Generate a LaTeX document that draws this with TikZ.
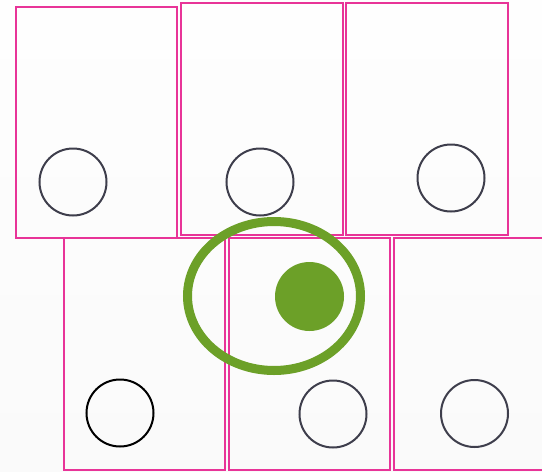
\documentclass[tikz,border=0pt]{standalone}
\definecolor{pinkline}{RGB}{232,52,152}
\definecolor{leaf}{RGB}{108,160,40}
\definecolor{ringgray}{RGB}{62,62,76}
\definecolor{bgtop}{RGB}{254,254,254}
\definecolor{bgbot}{RGB}{250,250,250}
\tikzset{
  cell/.style={draw=pinkline, line width=2.2pt, rectangle, inner sep=0pt, fill=none},
  ring/.style={draw=ringgray, line width=2pt, circle, inner sep=0pt, minimum size=67pt},
  halo/.style={draw=leaf, line width=9pt, ellipse, inner sep=0pt, minimum width=173pt, minimum height=149pt},
  dot/.style={fill=leaf, circle, inner sep=0pt, minimum size=69pt}
}
\usetikzlibrary{shapes.geometric}
\begin{document}
\begin{tikzpicture}[x=1pt,y=-1pt]
\useasboundingbox (0,0) rectangle (542,472);
\shade[top color=bgtop, bottom color=bgbot] (0,0) rectangle (542,472);
\clip (0,0) rectangle (542,472);
\node[cell, minimum width=161pt, minimum height=231pt] (b1) at (96.5,122.5) {};
\node[cell, minimum width=162pt, minimum height=232pt] (b2) at (262,119) {};
\node[cell, minimum width=162pt, minimum height=232pt] (b3) at (427,119) {};
\node[cell, minimum width=161pt, minimum height=232pt] (b4) at (144.5,354) {};
\node[cell, minimum width=161pt, minimum height=232pt] (b5) at (309.5,354) {};
\node[cell, minimum width=161pt, minimum height=232pt] (b6) at (474.5,354) {};
\node[ring] (c1) at (73,182) {};
\node[ring] (c2) at (260,182) {};
\node[ring] (c3) at (451,178) {};
\node[ring, draw=black] (c4) at (120,413) {};
\node[ring] (c5) at (333,414) {};
\node[ring] (c6) at (474.5,413.5) {};
\node[halo] (e) at (274,296) {};
\node[dot] (d) at (309.5,296.5) {};
\end{tikzpicture}
\end{document}
